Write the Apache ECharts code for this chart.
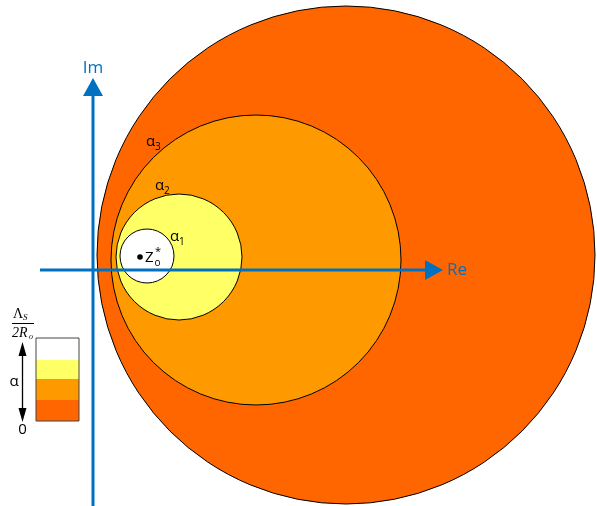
<!DOCTYPE html>
<html><head><meta charset="utf-8">
<script src="https://cdn.jsdelivr.net/npm/echarts@6/dist/echarts.min.js"></script>
<style>html,body{margin:0;padding:0;background:#fff}#c{width:597px;height:506px}</style>
</head><body><div id="c"></div>
<script>
// ---- data (complex-plane units) ----
const circleNames = ['α3', 'α2', 'α1', 'Z'];
const circleRe = [25.3, 16.3, 8.6, 5.4];
const circleIm = [1.5, 1.0, 1.3, 1.4];
const circleR = [24.9, 14.5, 6.3, 2.7];
const circleColors = ['#ff6600', '#ff9900', '#ffff66', '#ffffff'];

const alphaSubs = ['3', '2', '1'];
const alphaRe = [5.3, 6.2, 7.7];
const alphaIm = [12.8, 8.4, 3.3];

const zPoint = [4.7, 1.3];

const reAxisExtent = [-5.3, 35.0];
const imAxisExtent = [-23.6, 19.2];
const axisNames = ['Re', 'Im'];

const legendBands = ['α3', 'α2', 'α1', 'α0'];
const legendColors = ['#ff6600', '#ff9900', '#ffff66', '#ffffff'];

const BLUE = '#0070c0';
const FONT = '"Open Sans", sans-serif';

const chart = echarts.init(document.getElementById('c'));

const circleData = circleNames.map((n, i) => [circleRe[i], circleIm[i], circleR[i], i]);
const alphaData = alphaSubs.map((s, i) => [alphaRe[i], alphaIm[i], i]);
const axisData = [
  [reAxisExtent[0], 0, reAxisExtent[1], 0, 0],
  [0, imAxisExtent[0], 0, imAxisExtent[1], 1]
];

// legend graphic
const boxX = 36, boxY = 338, boxW = 43;
const bandH = [21, 21, 19, 22];
const legendGraphic = [];
let yb = boxY + 83;
for (let i = 0; i < legendBands.length; i++) {
  yb -= bandH[i];
  legendGraphic.push({type: 'rect', shape: {x: boxX, y: yb, width: boxW, height: bandH[i]}, style: {fill: legendColors[i]}, z: 10});
}
legendGraphic.push({type: 'rect', shape: {x: boxX, y: boxY, width: boxW, height: 83}, style: {fill: 'none', stroke: '#444', lineWidth: 1}, z: 11});
// double arrow
legendGraphic.push({type: 'line', shape: {x1: 22.5, y1: 352, x2: 22.5, y2: 412}, style: {stroke: '#000', lineWidth: 1.3}, z: 11});
legendGraphic.push({type: 'polygon', shape: {points: [[22.5, 342], [18.5, 356], [26.5, 356]]}, style: {fill: '#000'}, z: 11});
legendGraphic.push({type: 'polygon', shape: {points: [[22.5, 422], [18.5, 408], [26.5, 408]]}, style: {fill: '#000'}, z: 11});
legendGraphic.push({type: 'text', style: {x: 14, y: 382, text: 'α', font: '15px ' + FONT, fill: '#000', textVerticalAlign: 'middle', textAlign: 'center'}, z: 12});
legendGraphic.push({type: 'text', style: {x: 22.5, y: 430, text: '0', font: '15px ' + FONT, fill: '#000', textVerticalAlign: 'middle', textAlign: 'center'}, z: 12});
// fraction
legendGraphic.push({type: 'text', style: {x: 13, y: 314, text: 'Λ', font: '14px "Liberation Serif", serif', fill: '#000', textVerticalAlign: 'middle'}, z: 12});
legendGraphic.push({type: 'text', style: {x: 23, y: 318, text: 'S', font: 'italic 9px "Liberation Serif", serif', fill: '#000', textVerticalAlign: 'middle'}, z: 12});
legendGraphic.push({type: 'line', shape: {x1: 12, y1: 323.5, x2: 34, y2: 323.5}, style: {stroke: '#000', lineWidth: 1}, z: 12});
legendGraphic.push({type: 'text', style: {x: 12, y: 333, text: '2R', font: 'italic 14px "Liberation Serif", serif', fill: '#000', textVerticalAlign: 'middle'}, z: 12});
legendGraphic.push({type: 'text', style: {x: 29, y: 337, text: 'o', font: 'italic 8px "Liberation Serif", serif', fill: '#000', textVerticalAlign: 'middle'}, z: 12});

chart.setOption({
  animation: false,
  grid: {left: 0, right: 0, top: 0, bottom: 0},
  xAxis: {type: 'value', min: -9.3, max: 50.4, show: false},
  yAxis: {type: 'value', min: -23.6, max: 27.0, show: false},
  graphic: legendGraphic,
  series: [
    {
      type: 'custom', z: 1,
      data: circleData,
      renderItem: function (params, api) {
        const c = api.coord([api.value(0), api.value(1)]);
        const r = api.size([api.value(2), 0])[0];
        const i = api.value(3);
        return {type: 'circle', shape: {cx: c[0], cy: c[1], r: r}, style: {fill: circleColors[i], stroke: '#000', lineWidth: 1}};
      }
    },
    {
      type: 'custom', z: 3,
      data: alphaData,
      renderItem: function (params, api) {
        const c = api.coord([api.value(0), api.value(1)]);
        const i = api.value(2);
        return {type: 'group', children: [
          {type: 'text', style: {x: c[0], y: c[1], text: 'α', font: '15px ' + FONT, fill: '#000', textVerticalAlign: 'middle'}},
          {type: 'text', style: {x: c[0] + 9, y: c[1] + 5, text: alphaSubs[i], font: '10px ' + FONT, fill: '#000', textVerticalAlign: 'middle'}}
        ]};
      }
    },
    {
      type: 'custom', z: 3,
      data: [zPoint],
      renderItem: function (params, api) {
        const c = api.coord([api.value(0), api.value(1)]);
        return {type: 'group', children: [
          {type: 'circle', shape: {cx: c[0], cy: c[1], r: 2.8}, style: {fill: '#000'}},
          {type: 'text', style: {x: c[0] + 5, y: c[1] + 1, text: 'Z', font: '15px ' + FONT, fill: '#000', textVerticalAlign: 'middle'}},
          {type: 'text', style: {x: c[0] + 15, y: c[1] - 5, text: '*', font: '11px ' + FONT, fill: '#000', textVerticalAlign: 'middle'}},
          {type: 'text', style: {x: c[0] + 14.5, y: c[1] + 6, text: 'o', font: '10px ' + FONT, fill: '#000', textVerticalAlign: 'middle'}}
        ]};
      }
    },
    {
      type: 'custom', z: 4,
      data: axisData,
      renderItem: function (params, api) {
        const p0 = api.coord([api.value(0), api.value(1)]);
        const p1 = api.coord([api.value(2), api.value(3)]);
        const k = api.value(4);
        const dx = p1[0] - p0[0], dy = p1[1] - p0[1];
        const len = Math.sqrt(dx * dx + dy * dy);
        const ux = dx / len, uy = dy / len;
        const hl = 18, hw = 10;
        const bx = p1[0] - ux * hl, by = p1[1] - uy * hl;
        const children = [
          {type: 'line', shape: {x1: p0[0], y1: p0[1], x2: bx, y2: by}, style: {stroke: BLUE, lineWidth: 3}},
          {type: 'polygon', shape: {points: [[p1[0], p1[1]], [bx - uy * hw, by + ux * hw], [bx + uy * hw, by - ux * hw]]}, style: {fill: BLUE}}
        ];
        if (k === 0) {
          children.push({type: 'text', style: {x: p1[0] + 4, y: p1[1], text: axisNames[0], font: '17px ' + FONT, fill: BLUE, textVerticalAlign: 'middle'}});
        } else {
          children.push({type: 'text', style: {x: p1[0], y: p1[1] - 10, text: axisNames[1], font: '17px ' + FONT, fill: BLUE, textVerticalAlign: 'middle', textAlign: 'center'}});
        }
        return {type: 'group', children: children};
      }
    }
  ]
});
</script></body></html>
